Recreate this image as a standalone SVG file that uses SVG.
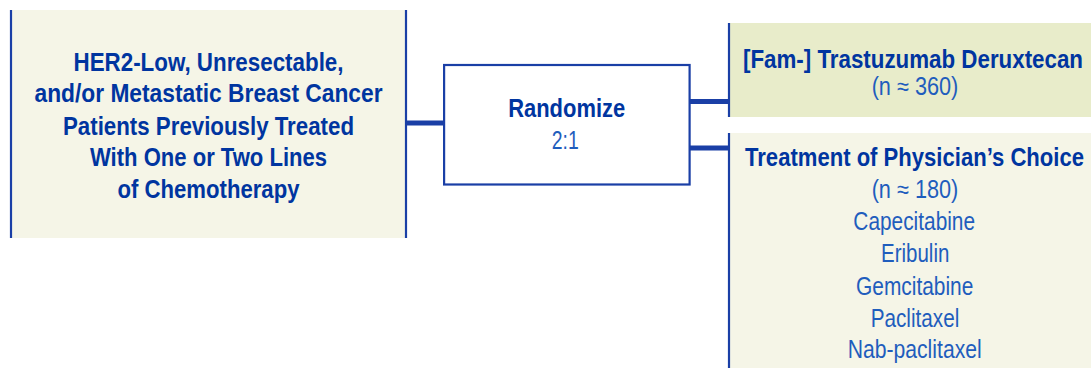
<svg xmlns="http://www.w3.org/2000/svg" width="1091" height="368" viewBox="0 0 1091 368">
<style>
.b{font-family:"Liberation Sans",Arial,sans-serif;font-weight:bold;font-size:25px;fill:#0035a0;text-anchor:middle}
.r{font-family:"Liberation Sans",Arial,sans-serif;font-size:25px;fill:#1f5dbd;text-anchor:middle}
.edge{stroke:#1a3fa6;stroke-width:2.2;fill:none}
.conn{stroke:#1a3fa6;stroke-width:5;fill:none}
</style>
<rect width="1091" height="368" fill="#ffffff"/>
<g id="population">
<rect x="10" y="10" width="397" height="228" fill="#f5f5e7"/>
<line class="edge" x1="11" y1="10" x2="11" y2="238"/>
<line class="edge" x1="406" y1="10" x2="406" y2="238"/>
<text class="b" x="208.5" y="70.5" textLength="270" lengthAdjust="spacingAndGlyphs">HER2-Low, Unresectable,</text>
<text class="b" x="208.5" y="102" textLength="348" lengthAdjust="spacingAndGlyphs">and/or Metastatic Breast Cancer</text>
<text class="b" x="208.5" y="134.5" textLength="291" lengthAdjust="spacingAndGlyphs">Patients Previously Treated</text>
<text class="b" x="208.5" y="166" textLength="237" lengthAdjust="spacingAndGlyphs">With One or Two Lines</text>
<text class="b" x="208.5" y="198" textLength="182" lengthAdjust="spacingAndGlyphs">of Chemotherapy</text>
</g>
<g id="randomize">
<rect x="444.1" y="65" width="245.5" height="119.5" fill="#ffffff" class="edge"/>
<text class="b" x="566.7" y="116.7" textLength="117" lengthAdjust="spacingAndGlyphs">Randomize</text>
<text class="r" x="565.3" y="149.3" textLength="27" lengthAdjust="spacingAndGlyphs">2:1</text>
</g>
<g id="tdxd">
<rect x="728" y="23" width="363" height="94" fill="#e8ecca"/>
<line class="edge" x1="729" y1="23" x2="729" y2="117"/>
<text class="b" x="913" y="68.3" textLength="340" lengthAdjust="spacingAndGlyphs">[Fam-] Trastuzumab Deruxtecan</text>
<text class="r" x="915" y="95" textLength="86.7" lengthAdjust="spacingAndGlyphs">(n ≈ 360)</text>
</g>
<g id="tpc">
<rect x="728" y="133" width="363" height="235" fill="#f5f5e7"/>
<line class="edge" x1="729" y1="133" x2="729" y2="368"/>
<text class="b" x="914.5" y="166" textLength="339" lengthAdjust="spacingAndGlyphs">Treatment of Physician’s Choice</text>
<text class="r" x="915" y="197.5" textLength="86.7" lengthAdjust="spacingAndGlyphs">(n ≈ 180)</text>
<text class="r" x="914.2" y="229.5" textLength="121.7" lengthAdjust="spacingAndGlyphs">Capecitabine</text>
<text class="r" x="915.2" y="262" textLength="68.3" lengthAdjust="spacingAndGlyphs">Eribulin</text>
<text class="r" x="914.7" y="294.5" textLength="117.3" lengthAdjust="spacingAndGlyphs">Gemcitabine</text>
<text class="r" x="915" y="326.5" textLength="88.6" lengthAdjust="spacingAndGlyphs">Paclitaxel</text>
<text class="r" x="914.7" y="358.3" textLength="134" lengthAdjust="spacingAndGlyphs">Nab-paclitaxel</text>
</g>
<g id="connectors">
<line class="conn" x1="407" y1="123" x2="444" y2="123"/>
<line class="conn" x1="690" y1="101.5" x2="728" y2="101.5"/>
<line class="conn" x1="690" y1="148" x2="728" y2="148"/>
</g>
</svg>
